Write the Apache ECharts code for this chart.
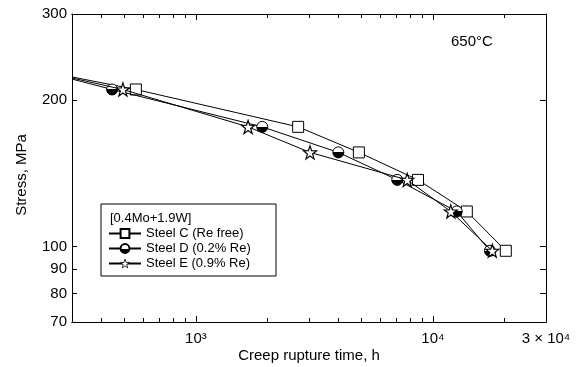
<!DOCTYPE html>
<html><head><meta charset="utf-8">
<script src="https://cdn.jsdelivr.net/npm/echarts@6/dist/echarts.min.js"></script>
<style>html,body{margin:0;padding:0;background:#fff}#c{width:583px;height:367px}</style>
</head><body><div id="c"></div>
<script>
// Creep rupture time (h) and stress (MPa); the first point of each list is where the line starts at the left frame
const timesC = [300, 558, 2700, 4870, 8650, 13900, 20300];
const stressC = [222.8, 210, 176, 156, 137, 118, 98];
const timesD = [300, 443, 1905, 3990, 7070, 12600, 17400];
const stressD = [220.6, 210, 176, 156, 137, 118, 98];
const timesE = [300, 492, 1660, 3030, 7790, 11900, 17800];
const stressE = [221.7, 210, 176, 156, 137, 118, 98];
const seriesNames = ['Steel C (Re free)', 'Steel D (0.2% Re)', 'Steel E (0.9% Re)'];
const xLabelValues = [1000, 10000, 30000];
const xLabelTexts = ['10³', '10⁴', '3 × 10⁴'];
const xMajorTicks = [1000, 10000];
const xMinorTicks = [400,500,600,700,800,900,2000,3000,4000,5000,6000,7000,8000,9000,20000];
const yTickValues = [70, 80, 90, 100, 200, 300];

const FONT = 'Liberation Sans, Arial, sans-serif';
const chart = echarts.init(document.getElementById('c'), null, {renderer: 'canvas'});
function build(times, stress) {
  return times.map((t, i) => i === 0 ? {value: [t, stress[i]], symbol: 'none'} : [t, stress[i]]);
}
const halfFill = new echarts.graphic.LinearGradient(0, 0, 0, 1, [
  {offset: 0, color: '#fff'}, {offset: 0.5, color: '#fff'},
  {offset: 0.5, color: '#000'}, {offset: 1, color: '#000'}]);
const starPath = 'path://M0,-10L2.35,-3.24L9.51,-3.09L3.8,1.24L5.88,8.09L0,4L-5.88,8.09L-3.8,1.24L-9.51,-3.09L-2.35,-3.24Z';
const xAxisBase = {type: 'log', min: 300, max: 30000, logBase: 10,
  axisLine: {lineStyle: {color: '#000', width: 1}}, splitLine: {show: false}, minorTick: {show: false}};
const yAxisBase = {type: 'log', min: 70, max: 300, logBase: 10,
  axisLine: {lineStyle: {color: '#000', width: 1}}, splitLine: {show: false}, minorTick: {show: false}};
function tickAxis(pos, vals, len) {
  return Object.assign({}, xAxisBase, {position: pos,
    axisTick: {show: true, inside: true, length: len, customValues: vals, lineStyle: {color: '#000', width: 1}},
    axisLabel: {show: false}});
}
chart.setOption({
  animation: false, backgroundColor: '#fff',
  grid: {left: 72, right: 37, top: 14, bottom: 45, outerBoundsMode: 'none', containLabel: false},
  xAxis: [
    Object.assign({}, xAxisBase, {position: 'bottom',
      name: 'Creep rupture time, h', nameLocation: 'middle', nameGap: 26, nameMoveOverlap: false,
      nameTextStyle: {color: '#000', fontSize: 15, fontFamily: FONT},
      axisTick: {show: true, inside: true, length: 6, customValues: xMajorTicks, lineStyle: {color: '#000', width: 1}},
      axisLabel: {show: true, customValues: xLabelValues, color: '#000', fontSize: 15, fontFamily: FONT, margin: 9,
        formatter: v => { const i = xLabelValues.findIndex(x => Math.abs(x - v) / x < 1e-6); return i >= 0 ? xLabelTexts[i] : ''; }}}),
    tickAxis('top', xMajorTicks, 6),
    tickAxis('bottom', xMinorTicks, 4),
    tickAxis('top', xMinorTicks, 4)
  ],
  yAxis: [
    Object.assign({}, yAxisBase, {position: 'left',
      name: 'Stress, MPa', nameLocation: 'middle', nameGap: 43, nameMoveOverlap: false,
      nameTextStyle: {color: '#000', fontSize: 15, fontFamily: FONT, padding: [0, 14, 0, 0]},
      axisTick: {show: true, inside: true, length: 5, customValues: yTickValues, lineStyle: {color: '#000', width: 1}},
      axisLabel: {show: true, customValues: yTickValues, color: '#000', fontSize: 15, fontFamily: FONT, margin: 5}}),
    Object.assign({}, yAxisBase, {position: 'right',
      axisTick: {show: true, inside: true, length: 6, customValues: yTickValues, lineStyle: {color: '#000', width: 1}},
      axisLabel: {show: false}})
  ],
  legend: {orient: 'vertical', left: 108, top: 227, itemWidth: 32, itemHeight: 11, itemGap: 2, padding: 0,
    textStyle: {color: '#000', fontSize: 13, fontFamily: FONT},
    data: [
      {name: seriesNames[0]},
      {name: seriesNames[1]},
      {name: seriesNames[2], itemStyle: {borderWidth: 0.8}}
    ]},
  graphic: [
    {type: 'rect', shape: {x: 101, y: 204, width: 175, height: 72}, style: {fill: '#fff', stroke: '#000', lineWidth: 1}, z: 0},
    {type: 'text', x: 110, y: 218, style: {text: '[0.4Mo+1.9W]', fill: '#000', font: '13px ' + FONT, verticalAlign: 'middle'}, z: 1},
    {type: 'text', x: 451, y: 42, style: {text: '650°C', fill: '#000', font: '15px ' + FONT, verticalAlign: 'middle'}, z: 1}
  ],
  series: [
    {name: seriesNames[0], type: 'line', data: build(timesC, stressC), symbol: 'rect', symbolSize: 11,
      itemStyle: {color: '#fff', borderColor: '#000', borderWidth: 1}, lineStyle: {color: '#000', width: 1}, z: 3},
    {name: seriesNames[1], type: 'line', data: build(timesD, stressD), symbol: 'circle', symbolSize: 11,
      itemStyle: {color: halfFill, borderColor: '#000', borderWidth: 1}, lineStyle: {color: '#000', width: 1}, z: 4},
    {name: seriesNames[2], type: 'line', data: build(timesE, stressE), symbol: starPath, symbolSize: 13,
      itemStyle: {color: '#fff', borderColor: '#000', borderWidth: 1.2}, lineStyle: {color: '#000', width: 1}, z: 5}
  ]
});
</script></body></html>
